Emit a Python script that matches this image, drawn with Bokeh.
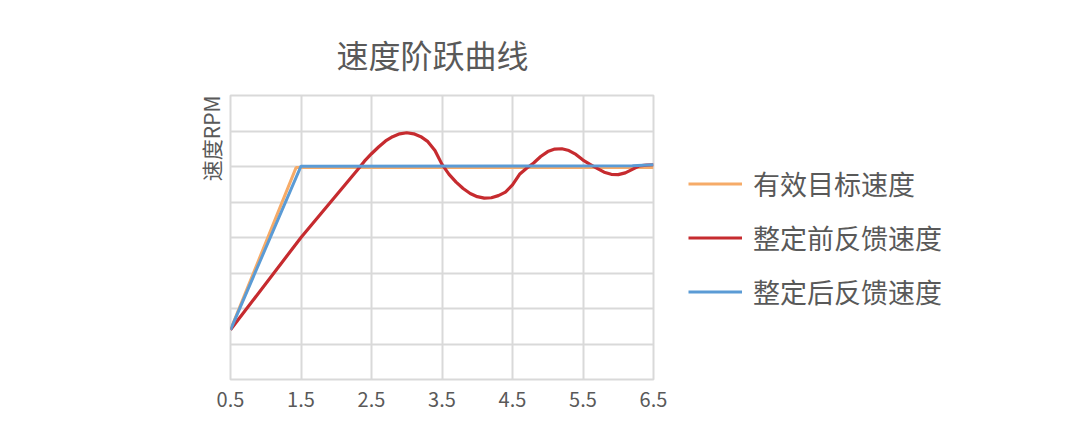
from bokeh.plotting import figure
from bokeh.models import Range1d, FixedTicker, Legend, LegendItem, Title
from bokeh.embed import file_html
from bokeh.resources import INLINE

title_text = "速度阶跃曲线"
y_label = "速度RPM"
series_names = ["有效目标速度", "整定前反馈速度", "整定后反馈速度"]
x_ticks = [0.5, 1.5, 2.5, 3.5, 4.5, 5.5, 6.5]
y_grid = [0, 1, 2, 3, 4, 5, 6, 7, 8]

target_x = [0.5, 1.43, 6.5]
target_y = [1.4, 5.97, 5.97]

before_x = [0.5, 1.5, 2.3, 2.4, 2.5, 2.6, 2.7, 2.8, 2.9, 3.0, 3.1, 3.2, 3.3, 3.4, 3.5,
            3.6, 3.7, 3.8, 3.9, 4.0, 4.1, 4.2, 4.3, 4.4, 4.5, 4.6, 4.7, 4.8, 4.9, 5.0,
            5.1, 5.2, 5.3, 5.4, 5.5, 5.6, 5.7, 5.8, 5.9, 6.0, 6.1, 6.2, 6.3, 6.4, 6.5]
before_y = [1.4, 4.0, 5.9, 6.15, 6.36, 6.55, 6.72, 6.84, 6.92, 6.95, 6.92, 6.84, 6.7, 6.45, 6.06,
            5.78, 5.56, 5.38, 5.24, 5.15, 5.11, 5.12, 5.18, 5.28, 5.48, 5.78, 5.95, 6.1, 6.28, 6.42,
            6.49, 6.5, 6.45, 6.34, 6.18, 6.06, 5.95, 5.84, 5.78, 5.77, 5.82, 5.92, 6.02, 6.04, 6.05]

after_x = [0.5, 1.5, 6.2, 6.5]
after_y = [1.4, 6.01, 6.02, 6.05]

colors = ["#F6AB68", "#C62B2F", "#5B9BD5"]
grid_color = "#D9D9D9"
text_color = "#595959"
font = "Noto Sans CJK SC"

p = figure(frame_width=423, frame_height=284, output_backend="svg", toolbar_location=None,
           x_range=Range1d(0.5, 6.5), y_range=Range1d(0, 8),
           min_border_left=230, min_border_right=40, min_border_top=95, min_border_bottom=53)
p.background_fill_color = "white"
p.border_fill_color = "white"
p.outline_line_color = grid_color
p.outline_line_width = 2

p.title.text = title_text
p.title.align = "left"
p.title.offset = 106
p.title.standoff = 37
p.title.text_font = font
p.title.text_font_size = "32px"
p.title.text_font_style = "normal"
p.title.text_color = text_color

p.add_layout(Title(text=y_label, align="right", text_font=font, text_font_size="21px",
                   text_font_style="normal", text_color=text_color, standoff=9), "left")

p.xaxis.ticker = FixedTicker(ticks=x_ticks)
p.xaxis.major_label_overrides = {t: ("%g" % t) for t in x_ticks}
p.xaxis.axis_line_color = None
p.xaxis.major_tick_line_color = None
p.xaxis.minor_tick_line_color = None
p.xaxis.major_label_text_font = font
p.xaxis.major_label_text_font_size = "20px"
p.xaxis.major_label_text_color = text_color
p.xaxis.major_label_standoff = 6
p.yaxis.visible = False

p.xgrid.ticker = FixedTicker(ticks=x_ticks)
p.ygrid.ticker = FixedTicker(ticks=y_grid)
p.xgrid.grid_line_color = grid_color
p.ygrid.grid_line_color = grid_color
p.xgrid.grid_line_width = 2
p.ygrid.grid_line_width = 2

r1 = p.line(target_x, target_y, line_color=colors[0], line_width=3)
r2 = p.line(before_x, before_y, line_color=colors[1], line_width=3.2)
r3 = p.line(after_x, after_y, line_color=colors[2], line_width=3)

legend = Legend(items=[LegendItem(label=series_names[0], renderers=[r1]),
                       LegendItem(label=series_names[1], renderers=[r2]),
                       LegendItem(label=series_names[2], renderers=[r3])],
                location="center_left", orientation="vertical",
                label_text_font=font, label_text_font_size="27px",
                label_text_color=text_color, glyph_width=54, glyph_height=20,
                label_height=20, spacing=15, label_standoff=11, padding=0, margin=35,
                border_line_color=None, background_fill_alpha=0)
p.add_layout(legend, "right")

open("out.html", "w").write(file_html(p, INLINE))
